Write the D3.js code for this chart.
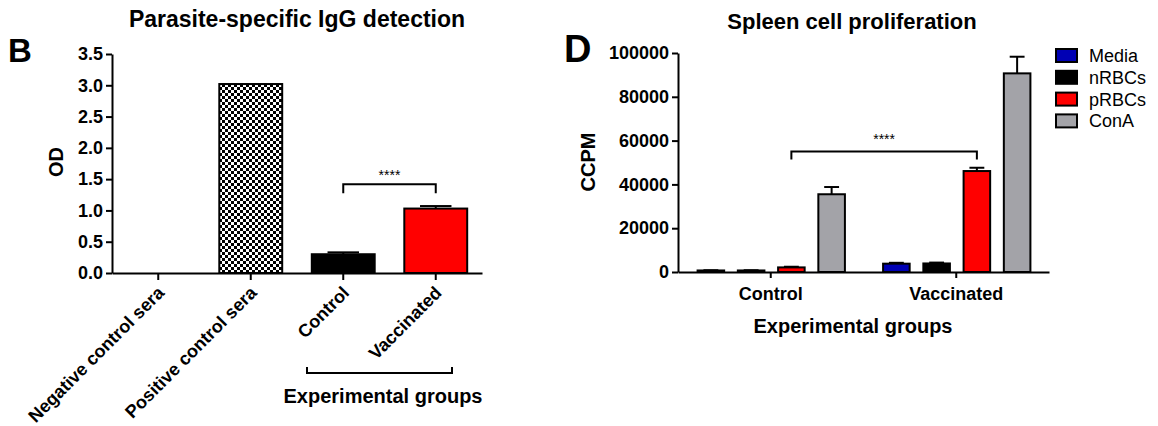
<!DOCTYPE html>
<html>
<head>
<meta charset="utf-8">
<script src="https://cdn.jsdelivr.net/npm/d3@7"></script>
<style>
  body { margin: 0; background: #fff; }
  svg { display: block; font-family: "Liberation Sans", Arial, sans-serif; }
  .axis path, .axis line { stroke: #000; stroke-width: 2px; }
  .axis text { font-size: 18px; font-weight: bold; fill: #000; }
</style>
</head>
<body>
<svg id="chart" width="1158" height="426"></svg>
<script>

// panel B: parasite-specific IgG
var igGroups = ["Negative control sera", "Positive control sera", "Control", "Vaccinated"],
    igMeans = [0, 3.02, 0.30, 1.03],
    igSem = [0, 0, 0.03, 0.04],
    igTicks = [0, 0.5, 1.0, 1.5, 2.0, 2.5, 3.0, 3.5];

// panel D: spleen cell proliferation
var prGroups = ["Control", "Vaccinated"],
    prSeries = ["Media", "nRBCs", "pRBCs", "ConA"],
    prColours = ["#0000b4", "#000000", "#ff0000", "#a3a3a8"],
    prControl = [700, 700, 2100, 35500],
    prControlSem = [100, 100, 300, 3300],
    prVacc = [3800, 3900, 46100, 90700],
    prVaccSem = [400, 400, 1500, 7600],
    prTicks = [0, 20000, 40000, 60000, 80000, 100000];

var svg = d3.select("#chart");

// checkerboard fill for the positive control bar
var pat = svg.append("defs").append("pattern")
    .attr("id", "checker")
    .attr("patternUnits", "userSpaceOnUse")
    .attr("width", 6).attr("height", 6);
pat.append("rect").attr("width", 6).attr("height", 6).attr("fill", "#fff");
pat.append("rect").attr("width", 3).attr("height", 3).attr("fill", "#000");
pat.append("rect").attr("x", 3).attr("y", 3).attr("width", 3).attr("height", 3).attr("fill", "#000");

/* ---------- panel B ---------- */
var xB = d3.scaleBand().domain(igGroups).range([112, 482])
    .paddingInner(0.32).paddingOuter(0.16);
var yB = d3.scaleLinear().domain([0, 3.5]).range([273, 54]);

var gB = svg.append("g");

gB.append("text").attr("x", 8).attr("y", 62)
    .style("font-size", "33px").style("font-weight", "bold").text("B");
gB.append("text").attr("x", 297).attr("y", 27).attr("text-anchor", "middle")
    .style("font-size", "23px").style("font-weight", "bold")
    .text("Parasite-specific IgG detection");

var igData = igGroups.map(function(g, i) {
  return { name: g, value: igMeans[i], sem: igSem[i] };
});
var igFill = ["#fff", "url(#checker)", "#000", "#ff0000"];

gB.selectAll(".bar").data(igData).enter().append("rect")
    .attr("x", function(d) { return xB(d.name); })
    .attr("y", function(d) { return yB(d.value); })
    .attr("width", xB.bandwidth())
    .attr("height", function(d) { return yB(0) - yB(d.value); })
    .attr("fill", function(d, i) { return igFill[i]; })
    .attr("stroke", "#000").attr("stroke-width", 2);

var errB = gB.selectAll(".err").data(igData.filter(function(d) { return d.sem > 0; }))
  .enter().append("g");
errB.append("line")
    .attr("x1", function(d) { return xB(d.name) + xB.bandwidth() / 2; })
    .attr("x2", function(d) { return xB(d.name) + xB.bandwidth() / 2; })
    .attr("y1", function(d) { return yB(d.value); })
    .attr("y2", function(d) { return yB(d.value + d.sem); })
    .attr("stroke", "#000").attr("stroke-width", 2);
errB.append("line")
    .attr("x1", function(d) { return xB(d.name) + xB.bandwidth() * 0.25; })
    .attr("x2", function(d) { return xB(d.name) + xB.bandwidth() * 0.75; })
    .attr("y1", function(d) { return yB(d.value + d.sem); })
    .attr("y2", function(d) { return yB(d.value + d.sem); })
    .attr("stroke", "#000").attr("stroke-width", 2);

gB.append("g").attr("class", "axis")
    .attr("transform", "translate(112,0)")
    .call(d3.axisLeft(yB).tickValues(igTicks).tickFormat(d3.format(".1f")).tickSize(6).tickSizeOuter(0));

var axB = gB.append("g").attr("class", "axis")
    .attr("transform", "translate(0," + yB(0) + ")")
    .call(d3.axisBottom(xB).tickSize(7).tickSizeOuter(0));
axB.selectAll("text")
    .attr("text-anchor", "end")
    .attr("x", 0).attr("y", 0).attr("dy", 0)
    .attr("transform", "translate(7,21) rotate(-45)");

gB.append("text").attr("transform", "translate(63,162) rotate(-90)")
    .attr("text-anchor", "middle")
    .style("font-size", "20px").style("font-weight", "bold").text("OD");

// significance bracket
var c1 = xB("Control") + xB.bandwidth() / 2,
    c2 = xB("Vaccinated") + xB.bandwidth() / 2,
    by = yB(1.42);
gB.append("path")
    .attr("d", "M" + c1 + "," + (by + 9) + "V" + by + "H" + c2 + "V" + (by + 9))
    .attr("fill", "none").attr("stroke", "#000").attr("stroke-width", 2);
gB.append("text").attr("x", (c1 + c2) / 2).attr("y", by - 4)
    .attr("text-anchor", "middle").style("font-size", "14px").text("****");

// experimental groups bracket
gB.append("path")
    .attr("d", "M307,367V373H452V367")
    .attr("fill", "none").attr("stroke", "#000").attr("stroke-width", 2);
gB.append("text").attr("x", 383).attr("y", 403).attr("text-anchor", "middle")
    .style("font-size", "20px").style("font-weight", "bold").text("Experimental groups");

/* ---------- panel D ---------- */
var x0 = d3.scaleBand().domain(prGroups).range([678, 1049]).padding(0);
var x1 = d3.scaleBand().domain(prSeries).range([-80, 81])
    .paddingInner(0.34).paddingOuter(0.17);
var yD = d3.scaleLinear().domain([0, 100000]).range([272, 53]);

var gD = svg.append("g");

gD.append("text").attr("x", 564).attr("y", 62)
    .style("font-size", "38px").style("font-weight", "bold").text("D");
gD.append("text").attr("x", 852).attr("y", 29).attr("text-anchor", "middle")
    .style("font-size", "22px").style("font-weight", "bold")
    .text("Spleen cell proliferation");

var prData = [];
prGroups.forEach(function(g, gi) {
  var m = gi === 0 ? prControl : prVacc,
      s = gi === 0 ? prControlSem : prVaccSem;
  prSeries.forEach(function(k, i) {
    prData.push({ group: g, key: k, value: m[i], sem: s[i], colour: prColours[i] });
  });
});

function cx(d) { return x0(d.group) + x0.bandwidth() / 2 + x1(d.key); }

gD.selectAll(".bar").data(prData).enter().append("rect")
    .attr("x", cx)
    .attr("y", function(d) { return yD(d.value); })
    .attr("width", x1.bandwidth())
    .attr("height", function(d) { return yD(0) - yD(d.value); })
    .attr("fill", function(d) { return d.colour; })
    .attr("stroke", "#000").attr("stroke-width", 2);

var errD = gD.selectAll(".err").data(prData).enter().append("g");
errD.append("line")
    .attr("x1", function(d) { return cx(d) + x1.bandwidth() / 2; })
    .attr("x2", function(d) { return cx(d) + x1.bandwidth() / 2; })
    .attr("y1", function(d) { return yD(d.value); })
    .attr("y2", function(d) { return yD(d.value + d.sem); })
    .attr("stroke", "#000").attr("stroke-width", 2);
errD.append("line")
    .attr("x1", function(d) { return cx(d) + x1.bandwidth() * 0.22; })
    .attr("x2", function(d) { return cx(d) + x1.bandwidth() * 0.78; })
    .attr("y1", function(d) { return yD(d.value + d.sem); })
    .attr("y2", function(d) { return yD(d.value + d.sem); })
    .attr("stroke", "#000").attr("stroke-width", 2);

gD.append("g").attr("class", "axis")
    .attr("transform", "translate(678,0)")
    .call(d3.axisLeft(yD).tickValues(prTicks).tickFormat(d3.format("d")).tickSize(6).tickSizeOuter(0));

gD.append("g").attr("class", "axis")
    .attr("transform", "translate(0," + yD(0) + ")")
    .call(d3.axisBottom(x0).tickSize(6).tickSizeOuter(0))
  .selectAll("text").attr("dy", "1.05em");

gD.append("text").attr("transform", "translate(595,162) rotate(-90)")
    .attr("text-anchor", "middle")
    .style("font-size", "20px").style("font-weight", "bold").text("CCPM");

gD.append("text").attr("x", 853).attr("y", 333).attr("text-anchor", "middle")
    .style("font-size", "20px").style("font-weight", "bold").text("Experimental groups");

// significance bracket between the pRBC bars
var p1 = cx(prData[2]) + x1.bandwidth() / 2,
    p2 = cx(prData[6]) + x1.bandwidth() / 2,
    py = yD(55000);
gD.append("path")
    .attr("d", "M" + p1 + "," + (py + 8) + "V" + py + "H" + p2 + "V" + (py + 8))
    .attr("fill", "none").attr("stroke", "#000").attr("stroke-width", 2);
gD.append("text").attr("x", (p1 + p2) / 2).attr("y", py - 8)
    .attr("text-anchor", "middle").style("font-size", "14px").text("****");

// legend
var leg = gD.selectAll(".leg").data(prSeries).enter().append("g")
    .attr("transform", function(d, i) { return "translate(1056," + (49 + i * 21.8) + ")"; });
leg.append("rect").attr("width", 21).attr("height", 13)
    .attr("fill", function(d, i) { return prColours[i]; })
    .attr("stroke", "#000").attr("stroke-width", 2);
leg.append("text").attr("x", 33).attr("y", 13)
    .style("font-size", "18px").text(function(d) { return d; });

</script>
</body>
</html>
